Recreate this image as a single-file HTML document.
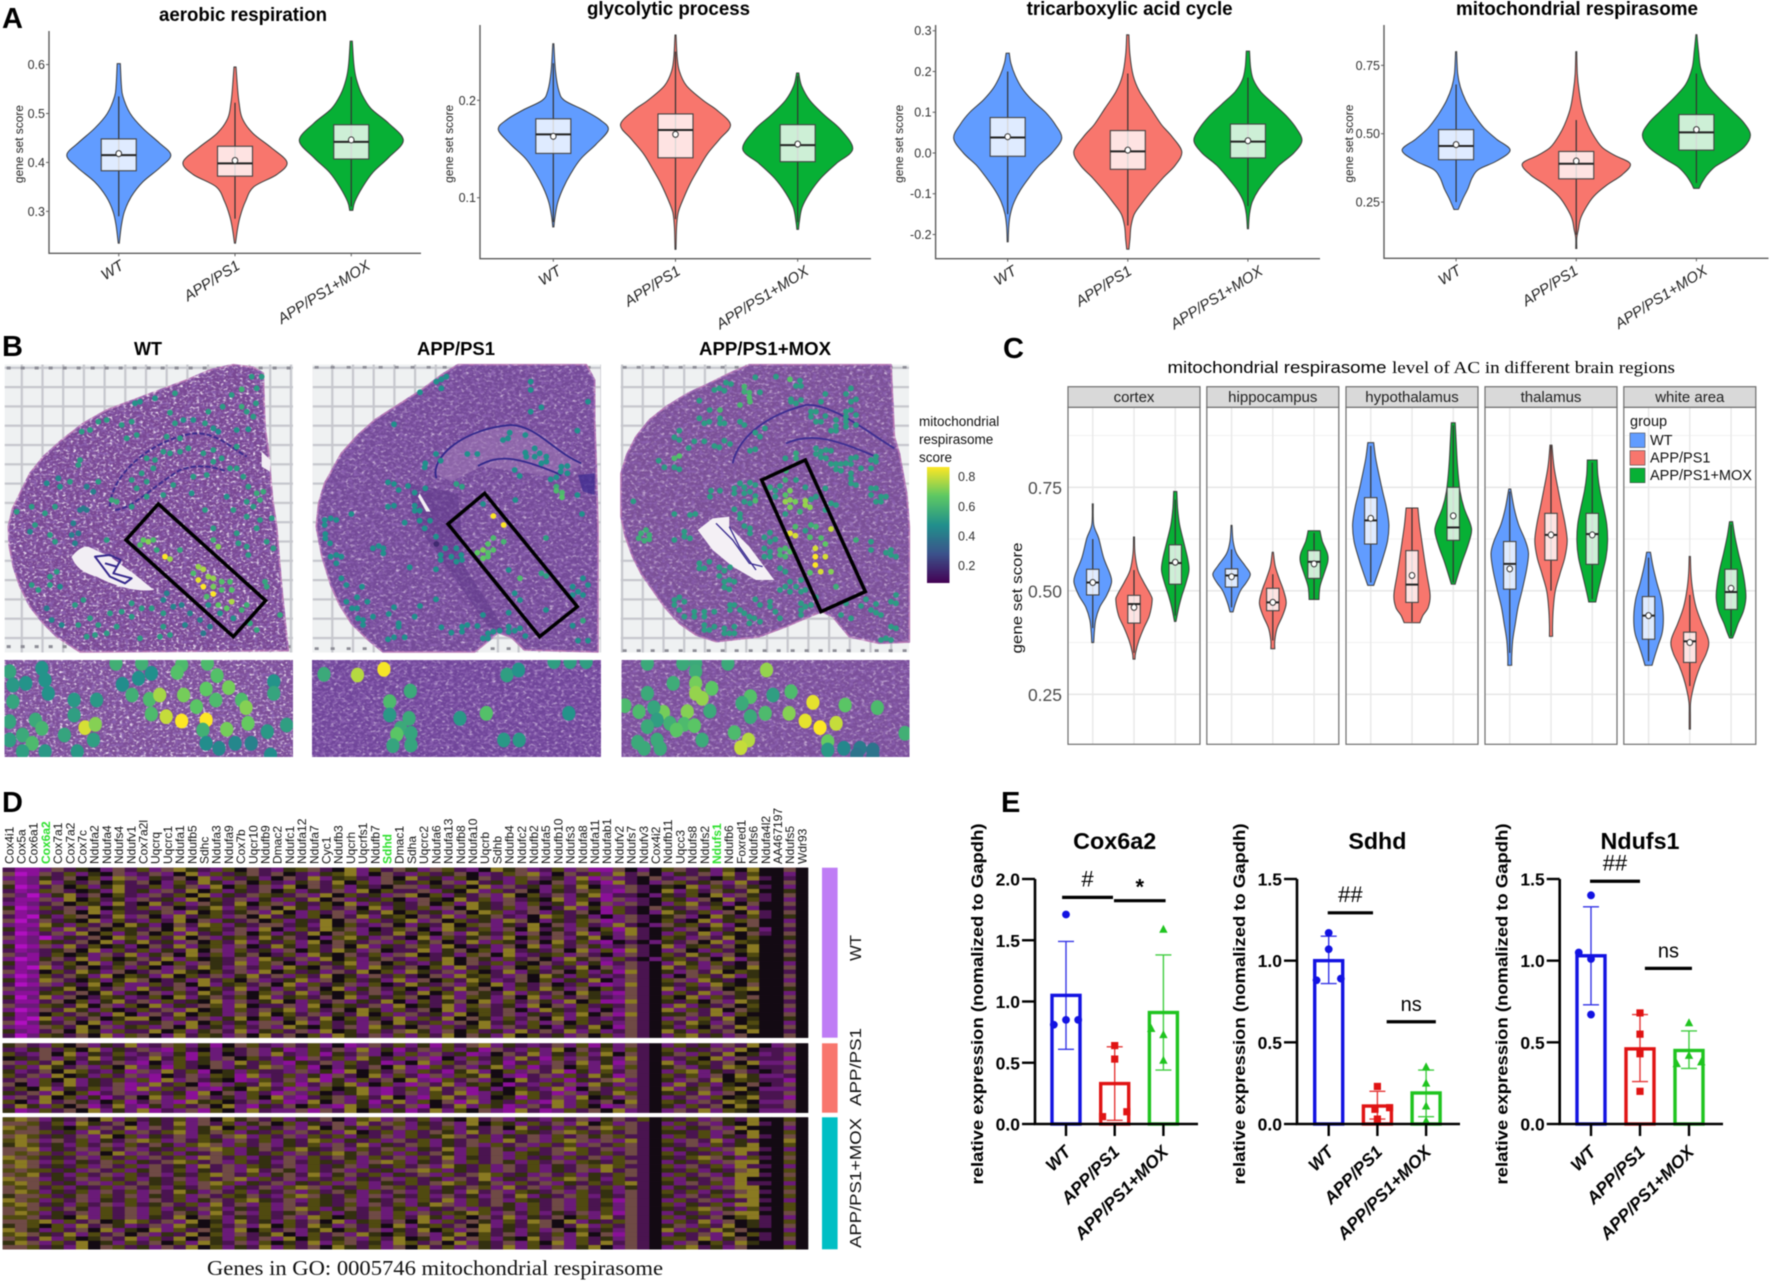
<!DOCTYPE html>
<html lang="en">
<head>
<meta charset="utf-8">
<title>Mitochondrial respirasome figure</title>
<style>
html,body{margin:0;padding:0;background:#fff}
svg{display:block;filter:blur(.45px)}
text{font-family:"Liberation Sans",sans-serif}
.serif{font-family:"Liberation Serif",serif}
</style>
</head>
<body>
<svg id="figure" xmlns="http://www.w3.org/2000/svg" width="1772" height="1284" viewBox="0 0 1772 1284">
<defs>
<filter id="speck" x="0" y="0" width="100%" height="100%"><feTurbulence type="fractalNoise" baseFrequency="0.3 0.42" numOctaves="2" seed="4" result="n"/><feColorMatrix in="n" type="matrix" values="0 0 0 0 .95 0 0 0 0 .9 0 0 0 0 .97 3.2 0 0 0 -1.62" result="c"/><feComposite in="c" in2="SourceAlpha" operator="in"/></filter>
<filter id="speck-soft" x="0" y="0" width="100%" height="100%"><feTurbulence type="fractalNoise" baseFrequency="0.26 0.36" numOctaves="2" seed="7" result="n"/><feColorMatrix in="n" type="matrix" values="0 0 0 0 .8 0 0 0 0 .68 0 0 0 0 .86 2.4 0 0 0 -1.25" result="c"/><feComposite in="c" in2="SourceAlpha" operator="in"/></filter>
<filter id="dark" x="0" y="0" width="100%" height="100%"><feTurbulence type="fractalNoise" baseFrequency="0.24 0.34" numOctaves="2" seed="9" result="n"/><feColorMatrix in="n" type="matrix" values="0 0 0 0 .26 0 0 0 0 .12 0 0 0 0 .44 0 2.8 0 0 -1.25" result="c"/><feComposite in="c" in2="SourceAlpha" operator="in"/></filter>
<pattern id="slide-grid" width="20.7" height="19.3" patternUnits="userSpaceOnUse"><rect width="20.7" height="19.3" fill="#eff1f2"/><path d="M0 0H20.7M0 0V19.3" stroke="#c6c7cd" stroke-width="4.4" fill="none"/></pattern>
<linearGradient id="viridis-gradient" x1="0" y1="1" x2="0" y2="0"><stop offset="0" stop-color="#440154"/><stop offset=".25" stop-color="#3b528b"/><stop offset=".5" stop-color="#21908c"/><stop offset=".75" stop-color="#5dc863"/><stop offset="1" stop-color="#fde725"/></linearGradient>
<clipPath id="clip-i1"><rect x="4.5" y="660" width="288.5" height="97"/></clipPath>
<clipPath id="clip-i2"><rect x="312" y="660" width="289" height="97"/></clipPath>
<clipPath id="clip-i3"><rect x="621.5" y="660" width="288" height="97"/></clipPath>
</defs>

<g font-weight="bold" font-size="29" fill="#000">
<text x="2" y="28">A</text>
<text x="2" y="356">B</text>
<text x="1003" y="358">C</text>
<text x="2" y="812">D</text>
<text x="1001" y="812">E</text>
</g>

<g id="panel-b">
<g font-weight="bold" font-size="18" text-anchor="middle">
<text x="148" y="355">WT</text>
<text x="456" y="355" textLength="78" lengthAdjust="spacingAndGlyphs">APP/PS1</text>
<text x="765" y="355" textLength="132" lengthAdjust="spacingAndGlyphs">APP/PS1+MOX</text>
</g>
<rect x="4.7" y="364.5" width="288.3" height="288" fill="url(#slide-grid)"/>
<rect x="312.7" y="364.5" width="288.3" height="288" fill="url(#slide-grid)"/>
<rect x="620.7" y="364.5" width="288.3" height="288" fill="url(#slide-grid)"/>
<path transform="translate(0,360) scale(.3333)" fill="none" stroke="#8d8d96" stroke-width="9" stroke-dasharray="12 30" d="M20 24H880M20 860H880"/>
<path transform="translate(308,360) scale(.3333)" fill="none" stroke="#8d8d96" stroke-width="8" stroke-dasharray="12 36" d="M20 22H880M20 866H880"/>
<path transform="translate(616,360) scale(.3333)" fill="none" stroke="#8d8d96" stroke-width="8" stroke-dasharray="12 30" d="M20 22H880M20 872H880"/>

<g>
<path id="bw" transform="translate(0,360) scale(.3333)" fill="#794793" stroke="#b97ab4" stroke-width="5" stroke-linejoin="round" d="M700 14L760 22L790 40L792 120L795 200L805 270L810 330L818 420L830 500L838 600L845 680L855 780L865 872L240 876L170 830L130 790L90 740L60 680L40 620L28 560L25 500L38 445L60 400L90 340L130 290L185 240L250 190L320 150L400 120L480 90L560 60L630 30Z"/>
<g filter="url(#speck)"><use href="#bw"/></g><g filter="url(#dark)"><use href="#bw"/></g>
<path transform="translate(0,360) scale(.3333)" fill="#f2eef4" d="M215 590C235 565 255 555 270 562L330 590L400 640L462 690C400 698 330 672 290 650C250 640 225 620 215 590Z"/>
<path transform="translate(0,360) scale(.3333)" fill="none" stroke="#36288c" stroke-width="6" stroke-linejoin="round" d="M285 590L330 585L362 600L340 640L395 655L375 670L330 650L300 610ZM315 610L350 620"/>
<path transform="translate(0,360) scale(.3333)" fill="none" stroke="#3b2c8e" stroke-width="6" stroke-dasharray="16 6" d="M330 440C330 360 430 250 570 222C640 210 690 260 740 290M345 450C400 445 450 385 540 330C590 312 640 318 680 335"/>
<path transform="translate(0,360) scale(.3333)" fill="#f2eef4" d="M785 275L812 300L810 335L785 320Z"/>
</g>
<g>
<path id="ba" transform="translate(308,360) scale(.3333)" fill="#744a98" stroke="#b97ab4" stroke-width="5" stroke-linejoin="round" d="M450 14L835 14L860 60L860 180L865 320L870 500L870 876L650 870L610 832L570 818L545 840L500 876L225 876L175 835L130 790L95 735L70 680L42 590L25 500L32 430L50 370L100 280L150 225L200 180L270 135L340 90L400 45Z"/>
<g filter="url(#speck-soft)"><use href="#ba"/></g><g filter="url(#dark)"><use href="#ba"/></g>
<path transform="translate(308,360) scale(.3333)" fill="#5b3688" opacity=".5" d="M300 370L450 400L470 620L560 760L590 810L540 800L430 640L330 500Z"/>
<path transform="translate(308,360) scale(.3333)" fill="#a47eb8" opacity=".5" d="M380 340C400 260 520 190 620 195C700 200 760 280 830 310L740 350L520 320L430 365Z"/>
<path transform="translate(308,360) scale(.3333)" fill="none" stroke="#33288c" stroke-width="5.5" d="M385 355C365 290 470 205 610 195C690 200 730 270 820 310M510 318C570 285 620 285 760 345"/>
<path transform="translate(308,360) scale(.3333)" fill="#3a2a90" opacity=".7" d="M810 345L860 340L860 405L825 395Z"/>
<path transform="translate(308,360) scale(.3333)" fill="#f2eef4" d="M335 400L368 455L355 455L330 410Z"/>
</g>
<g>
<path id="bm" transform="translate(616,360) scale(.3333)" fill="#7b5097" stroke="#b97ab4" stroke-width="5" stroke-linejoin="round" d="M400 14L825 14L830 120L835 230L850 280L872 400L880 500L880 846L790 850L700 830L650 770L618 755L580 770L510 800L430 830L300 845L240 825L190 790L145 740L110 690L75 640L50 590L28 530L15 470L15 340L32 285L60 230L100 180L150 140L215 100L280 70L340 40Z"/>
<g filter="url(#speck-soft)"><use href="#bm"/></g><g filter="url(#dark)"><use href="#bm"/></g>
<path transform="translate(616,360) scale(.3333)" fill="#f4f0f5" d="M245 510L290 475L340 470L340 500L400 560L430 600L475 660L420 660L350 620L290 570Z"/>
<path transform="translate(616,360) scale(.3333)" fill="none" stroke="#3a2c90" stroke-width="4" d="M300 490L350 540L400 610L440 620M340 500L370 560L420 630"/>
<path transform="translate(616,360) scale(.3333)" fill="none" stroke="#3d2e92" stroke-width="5.5" d="M350 310C370 220 470 160 570 135C650 130 760 220 835 265M510 250C590 215 660 240 780 290"/>
</g>

<rect id="i1" x="4.5" y="660" width="288.5" height="97" fill="#7d4e98"/>
<rect id="i2" x="312" y="660" width="289" height="97" fill="#70459a"/>
<rect id="i3" x="621.5" y="660" width="288" height="97" fill="#7b4f9a"/>
<g filter="url(#speck)"><use href="#i1"/></g>
<g filter="url(#speck-soft)"><use href="#i2"/><use href="#i3"/></g>
<g filter="url(#dark)"><use href="#i1"/><use href="#i2"/><use href="#i3"/></g>
<g id="spot-layer"></g>
<g id="inset-layer-wt" clip-path="url(#clip-i1)"></g>
<g id="inset-layer-app" clip-path="url(#clip-i2)"></g>
<g id="inset-layer-mox" clip-path="url(#clip-i3)"></g>
<path transform="translate(0,360) scale(.3333)" fill="none" stroke="#000" stroke-width="10.5" d="M475 432L797 722L700 830L378 540Z"/>
<path transform="translate(308,360) scale(.3333)" fill="none" stroke="#000" stroke-width="10.5" d="M530 400L808 740L695 830L420 492Z"/>
<path transform="translate(616,360) scale(.3333)" fill="none" stroke="#000" stroke-width="10.5" d="M568 300L748 695L615 755L437 360Z"/>
<g font-size="13.5" fill="#111">
<text x="919" y="426">mitochondrial</text><text x="919" y="444">respirasome</text><text x="919" y="462">score</text>
</g>
<rect x="927" y="467" width="22.5" height="116" fill="url(#viridis-gradient)"/>
<g id="colorbar-ticks"></g>
</g>

<g id="panel-a"></g>
<g id="panel-c"></g>
<g id="panel-d"></g>
<g id="panel-e"></g>
</svg>

<script>
/* ---------- Panel A data ---------- */
const groups=['WT','APP/PS1','APP/PS1+MOX'];
const groupColors=['#619CFF','#F8766D','#07B035'];

const aerobicScores=[[.602,.56,.535,.50,.47,.44,.415,.39,.36,.33,.30,.27,.235],[.595,.55,.52,.49,.46,.43,.40,.375,.35,.32,.29,.265,.235],[.648,.60,.57,.54,.51,.48,.445,.41,.38,.35,.32,.302]];
const aerobicDensity=[[.03,.05,.08,.22,.46,.78,1,.8,.46,.24,.11,.05,.01],[.02,.05,.08,.14,.34,.7,1,.8,.36,.2,.1,.05,.01],[.02,.05,.1,.2,.38,.72,1,.72,.42,.22,.07,.03]];
const aerobicBox=[[.383,.415,.448],[.372,.398,.433],[.407,.442,.477]];
const aerobicMean=[.418,.404,.446];
const aerobicWhisker=[[.29,.535],[.285,.522],[.31,.575]];
const aerobicTicks=[.3,.4,.5,.6];
const aerobicTickLabels=['0.3','0.4','0.5','0.6'];

const glycoScores=[[.258,.23,.21,.2,.19,.18,.17,.155,.14,.125,.11,.095,.08,.07],[.267,.245,.23,.215,.2,.19,.175,.16,.145,.13,.115,.10,.085,.07,.047],[.228,.215,.2,.185,.17,.15,.135,.12,.105,.09,.075,.0675]];
const glycoDensity=[[.01,.04,.1,.2,.55,.85,1,.78,.5,.32,.18,.08,.03,.01],[.01,.03,.07,.2,.5,.75,1,.8,.58,.42,.27,.15,.05,.02,.005],[.02,.07,.22,.48,.78,1,.7,.42,.22,.08,.03,.015]];
const glycoBox=[[.1455,.165,.181],[.141,.1695,.186],[.137,.154,.175]];
const glycoMean=[.163,.165,.155];
const glycoWhisker=[[.075,.238],[.078,.25],[.075,.225]];
const glycoTicks=[.1,.2];
const glycoTickLabels=['0.1','0.2'];

const tcaScores=[[.245,.22,.19,.16,.13,.10,.07,.036,0,-.03,-.06,-.09,-.12,-.15,-.18,-.218],[.29,.24,.19,.15,.11,.07,.04,.003,-.03,-.06,-.09,-.12,-.15,-.18,-.21,-.236],[.25,.21,.18,.15,.12,.09,.06,.03,0,-.03,-.06,-.09,-.12,-.15,-.186]];
const tcaDensity=[[.03,.06,.14,.26,.45,.7,.88,1,.82,.58,.4,.24,.12,.05,.02,.005],[.02,.04,.1,.22,.42,.62,.82,1,.88,.66,.46,.28,.12,.06,.04,.02],[.03,.05,.1,.24,.48,.72,.9,1,.85,.58,.38,.2,.08,.03,.01]];
const tcaBox=[[-.008,.038,.087],[-.04,.004,.055],[-.012,.028,.071]];
const tcaMean=[.04,.007,.03];
const tcaWhisker=[[-.15,.2],[-.178,.195],[-.13,.185]];
const tcaTicks=[-.2,-.1,0,.1,.2,.3];
const tcaTickLabels=['-0.2','-0.1','0.0','0.1','0.2','0.3'];

const respScores=[[.80,.72,.67,.62,.57,.52,.48,.44,.40,.37,.34,.30,.26,.223],[.80,.72,.66,.6,.55,.5,.45,.42,.39,.35,.31,.27,.23,.19,.15,.12,.08],[.862,.8,.74,.68,.63,.58,.54,.495,.45,.41,.38,.35,.32,.30]];
const respDensity=[[.01,.03,.08,.18,.33,.52,.75,1,.75,.42,.3,.22,.12,.04],[.005,.02,.05,.1,.18,.3,.48,.72,1,.85,.55,.32,.18,.08,.04,.01,.005],[.01,.04,.08,.2,.42,.68,.88,1,.88,.6,.35,.2,.1,.05]];
const respBox=[[.405,.455,.515],[.335,.39,.435],[.44,.505,.57]];
const respMean=[.46,.40,.515];
const respWhisker=[[.25,.68],[.13,.55],[.32,.72]];
const respTicks=[.25,.5,.75];
const respTickLabels=['0.25','0.50','0.75'];

/* ---------- Panel C data ---------- */
const regions=['cortex','hippocampus','hypothalamus','thalamus','white area'];
const regionTicks=[.25,.5,.75];
const regionTickLabels=['0.25','0.50','0.75'];
const regionMinorTicks=[.375,.625,.875];

const cortexScores=[[.71,.66,.627,.58,.54,.52,.49,.46,.43,.40,.375],[.63,.59,.55,.52,.49,.475,.44,.41,.38,.35,.335],[.74,.70,.66,.62,.58,.55,.52,.49,.46,.426]];
const cortexDensity=[[.02,.05,.3,.55,.88,.95,.72,.35,.15,.08,.05],[.02,.05,.2,.5,.85,.92,.78,.5,.25,.08,.05],[.08,.12,.22,.42,.62,.7,.55,.35,.18,.04]];
const cortexBox=[[.49,.52,.552],[.422,.468,.489],[.516,.567,.611]];
const cortexMean=[.52,.46,.569];
const cortexWhisker=[[.41,.625],[.35,.55],[.44,.72]];

const hippoScores=[[.658,.62,.59,.56,.54,.52,.50,.47,.449],[.593,.56,.53,.50,.47,.44,.41,.38,.36],[.645,.62,.59,.57,.54,.51,.479]];
const hippoDensity=[[.02,.08,.25,.7,.95,.75,.45,.2,.08],[.03,.12,.32,.55,.68,.5,.22,.1,.1],[.3,.42,.68,.7,.5,.3,.25]];
const hippoBox=[[.509,.537,.553],[.452,.472,.506],[.53,.57,.597]];
const hippoMean=[.534,.472,.565];
const hippoWhisker=[[.46,.60],[.38,.54],[.48,.64]];

const hypoScores=[[.858,.82,.78,.74,.70,.66,.62,.58,.55,.513],[.70,.66,.62,.58,.54,.49,.46,.44,.423],[.906,.86,.8,.74,.7,.66,.64,.61,.57,.54,.516]];
const hypoDensity=[[.15,.25,.42,.6,.8,.92,.85,.62,.42,.15],[.3,.38,.5,.62,.75,.92,.82,.55,.4],[.1,.15,.22,.35,.55,.88,.92,.75,.45,.25,.1]];
const hypoBox=[[.613,.67,.725],[.472,.515,.597],[.622,.653,.75]];
const hypoMean=[.675,.537,.681];
const hypoWhisker=[[.52,.85],[.425,.70],[.52,.90]];

const thalScores=[[.746,.7,.66,.62,.59,.55,.5,.46,.42,.38,.34,.32],[.852,.8,.74,.7,.66,.62,.58,.54,.5,.46,.42,.39],[.816,.78,.74,.7,.66,.62,.58,.54,.5,.473]];
const thalDensity=[[.05,.22,.45,.8,.95,.85,.62,.42,.28,.15,.1,.1],[.05,.15,.38,.55,.72,.82,.7,.45,.22,.12,.08,.08],[.25,.28,.4,.58,.74,.78,.7,.5,.3,.18]];
const thalBox=[[.504,.565,.619],[.574,.635,.687],[.564,.637,.687]];
const thalMean=[.553,.635,.635];
const thalWhisker=[[.35,.74],[.50,.85],[.48,.81]];

const whiteScores=[[.593,.56,.52,.48,.44,.4,.37,.34,.32],[.583,.54,.5,.46,.42,.38,.35,.32,.29,.26,.23,.2,.166],[.667,.63,.59,.55,.51,.48,.45,.42,.4,.386]];
const whiteDensity=[[.1,.22,.42,.65,.75,.7,.5,.3,.18],[.03,.06,.15,.32,.62,.95,.85,.55,.32,.15,.04,.03,.03],[.08,.2,.38,.58,.72,.75,.62,.35,.2,.08]];
const whiteBox=[[.383,.44,.486],[.327,.378,.40],[.455,.497,.552]];
const whiteMean=[.44,.375,.506];
const whiteWhisker=[[.33,.58],[.27,.49],[.39,.66]];

/* ---------- Panel B spots: [slide u, slide v, optional score in percent] ---------- */
const wtSpots=[[755,50],[785,50],[725,88,56],[695,105],[770,85],[768,130],[725,140,54],[668,140],[740,155],[760,170],[625,155],[510,158],[420,125,46],[405,130,46],[465,115,46],[525,100],[615,190],[640,205,46],[655,215,44],[710,210,46],[745,208,46],[550,180,46],[580,180,46],[525,190],[395,185],[365,195],[320,180],[295,185],[270,210],[245,215],[380,235],[410,225],[500,230],[540,235],[565,265],[540,275],[510,280],[490,275],[640,270],[610,280],[710,260],[665,295],[640,305],[440,295],[465,300],[460,325],[425,340],[395,360],[410,385],[440,365],[490,405],[520,375],[580,350],[620,345],[690,325],[710,325],[730,350],[745,380],[770,400,54],[790,395,54],[780,420,54],[740,425],[680,410,46],[575,400,46],[350,425,54],[335,420,54],[395,440],[440,410],[240,300],[235,315],[175,355,42],[140,370,44],[180,380,46],[210,365],[260,380,40],[280,395,40],[295,365],[95,440],[50,455],[165,440],[135,460],[250,445,38],[240,450,38],[260,450,38],[105,495],[90,515,42],[150,525],[165,545],[220,490,40],[215,525,40],[225,550,40],[235,520,38],[320,540],[170,635],[150,650],[95,675],[115,690],[150,675],[180,680,44],[250,720],[225,735],[140,745,38],[155,780,42],[185,795,42],[235,795],[270,775],[295,795],[330,760],[350,800],[320,820],[285,825],[260,830],[395,730],[365,755],[425,745],[455,745],[490,760],[520,740,42],[500,700,40],[490,720,42],[545,735,40],[570,760,40],[555,795,42],[600,780,40],[610,820,38],[630,800,38],[490,800],[510,825],[420,835],[480,830],[395,770],[430,540,65],[445,545,70],[460,540,60],[420,555,60],[470,570,52],[495,590,85],[510,597,72],[540,570,52],[640,540,56],[655,560,70],[595,620,72],[610,628,75],[580,640,60],[595,660,82],[625,650,72],[640,655,72],[610,680,85],[640,680,68],[665,665,62],[690,665,60],[640,702,85],[665,690,60],[695,690,62],[620,710,60],[695,725,75],[655,735,65],[680,745,65],[740,735,56],[725,750,56],[625,735,46],[660,760,46],[700,775,46],[750,790,52],[795,665,52],[800,680,52],[840,765,52],[770,810,52],[640,505],[710,520],[715,550],[740,560],[745,585],[800,545],[820,565],[770,505],[780,480],[815,475],[740,470],[760,440],[700,450],[615,450]];
const appSpots=[[385,65],[400,58],[415,50],[400,85],[336,97],[258,193],[668,65],[668,90],[668,155],[700,142],[840,125],[808,212],[652,225],[605,218],[600,235],[585,240],[478,282],[508,282],[384,282],[398,302],[352,310],[350,322],[652,278],[680,265],[695,280],[655,290],[680,290],[715,290],[715,305],[700,310],[620,330],[635,348],[778,318],[760,320],[758,335],[778,340],[745,352],[728,358],[745,380,55],[745,392,60],[762,398,60],[762,412,62],[808,405],[622,420],[822,462],[525,432],[556,468,85],[587,495,88],[240,367],[258,372],[300,378],[320,398],[352,385],[272,390],[445,372,50],[462,380,50],[240,440],[258,437],[320,437],[320,452],[335,452],[290,488],[335,482],[366,482],[130,462],[50,480],[50,495],[68,475],[85,480],[52,522],[52,535],[66,550],[195,565],[212,558],[226,565],[226,580],[68,590],[85,585],[100,590],[85,610],[305,622],[384,628],[384,530],[385,552,15],[412,565],[398,585],[398,600],[430,590],[445,565],[460,585],[462,600],[445,605],[350,505],[556,534,60],[540,552,62],[587,545,58],[508,578,65],[525,570,68],[540,578,62],[556,570,62],[525,595,65],[540,590,62],[602,630],[636,655,60],[700,640,50],[715,648,50],[714,534,50],[100,655],[115,675],[162,680],[115,725],[147,712],[178,725],[132,745],[147,745],[195,770],[150,775],[165,780],[165,795],[258,742],[242,762],[336,738],[320,770],[384,718],[272,790],[272,800],[290,832],[258,832],[240,838],[400,802],[430,818],[462,800],[478,795],[462,815],[508,798],[525,765],[602,758],[620,700],[636,720],[540,820],[525,835],[540,835],[556,815],[575,812],[602,800],[602,815],[620,812],[636,805],[652,828],[714,750],[825,655],[840,675],[794,680],[810,695],[825,705],[794,705],[825,782,52],[794,797],[810,842],[840,842]];
const moxSpots=[[418,52],[480,50],[522,58,62],[552,62],[540,78],[555,78],[330,68],[345,72],[385,80,58],[295,90],[310,85],[325,92],[400,98,58],[432,97],[385,95,55],[400,112,60],[402,125,60],[372,135,58],[250,122],[628,102],[690,102],[705,85],[615,125],[705,125],[720,118],[525,125],[540,130],[555,120],[525,118],[281,150],[312,150,58],[250,175],[265,190],[280,185],[312,175],[325,190],[312,190],[372,185],[385,195],[190,212],[175,232],[190,240],[235,244],[265,244],[218,264],[295,258],[310,262],[325,242],[342,252],[585,155],[600,155],[585,170],[600,185],[615,185],[628,168],[660,180],[660,198],[645,212],[660,212],[690,155],[705,150],[690,170],[690,185],[690,200],[720,165],[720,195],[418,218],[432,230],[447,205],[402,272],[418,268],[128,302],[175,295,60],[190,288,62],[145,322],[175,322],[190,328],[540,280,52],[540,295,52],[508,295],[600,265],[615,275],[630,270],[645,272],[600,282],[615,292],[630,295],[705,295],[720,292],[690,310],[660,312],[645,312],[675,312],[660,328],[675,332],[705,312],[735,325],[765,325],[765,300],[780,290],[780,305],[705,340],[705,355],[705,370],[720,375],[765,385],[780,385],[765,405],[795,410],[810,410],[780,425],[795,425],[510,332,55],[508,360,55],[540,360],[462,382,52],[478,392],[492,378],[522,392,68],[508,405,62],[478,410],[568,382],[600,410],[628,385],[508,425,72],[522,420,70],[538,425,68],[522,442,68],[568,422,72],[568,435,72],[582,442,70],[585,418],[552,455,55],[508,462],[645,430],[660,435],[628,450],[285,392],[312,392],[355,385],[355,400],[372,370],[385,382],[402,368],[418,375],[385,400],[402,395],[418,408],[418,422,60],[385,425],[402,430],[282,410],[355,448],[372,462],[372,475],[222,465],[238,462],[175,462],[52,424],[75,520,55],[90,510,55],[100,525,55],[68,535,55],[85,542,55],[100,538,55],[175,540],[205,515],[205,530],[222,535],[385,498],[402,505],[402,520],[462,518],[445,532],[462,545],[478,538],[538,500,60],[568,512],[585,495,55],[600,500,58],[522,520,82],[538,527,80],[582,532,60],[615,534,60],[645,507,78],[720,540,55],[765,545],[765,570],[628,552,65],[598,565,80],[598,590,85],[628,590,80],[598,615,90],[582,638,62],[614,635,80],[645,635,70],[660,680,55],[445,565],[462,575],[445,590],[462,590],[492,570,58],[508,565,60],[522,575,62],[492,585,58],[508,590,58],[810,578],[825,570],[825,585],[840,590],[250,610],[265,625],[280,605],[250,625],[310,622],[325,632],[342,622],[310,648],[325,665],[340,660],[355,665],[325,682],[340,688],[492,625],[508,635],[492,690],[508,680],[522,665],[540,680],[555,660],[568,690],[522,695],[555,695],[600,712],[175,720],[190,712],[205,725],[175,735],[190,750],[205,770],[235,755],[235,770],[265,755],[265,770],[295,755],[265,795],[280,810],[265,810],[295,800],[325,805],[355,800],[340,820],[355,820],[325,820],[342,735],[355,735],[342,750],[418,718],[432,735],[462,725],[462,740],[478,755],[492,775],[372,750],[385,760],[400,770],[415,775],[400,790],[432,785],[555,730],[568,740],[585,735],[555,750],[555,765],[690,730],[735,738],[780,732],[750,718],[765,750],[780,758],[795,765],[675,765],[705,775],[825,725],[840,730],[840,705],[825,800],[840,805],[795,840],[810,835],[825,840]];
const wtInsetSpots=[[15,1010,52],[65,1000,46],[70,1035,46],[20,1050,48],[40,1045,46],[75,1075,46],[180,985,56],[220,985,56],[282,990,60],[322,985,60],[235,1015,45],[215,1030,45],[275,1012,62],[337,1022,62],[190,1048,44],[205,1080,56],[232,1093,60],[248,1080,74],[285,1080,68],[320,1062,65],[355,1058,68],[335,1095,60],[375,1095,60],[425,1040,46],[425,1075,52],[115,1095,48],[150,1095,48],[20,1100,52],[15,1160,52],[55,1155,54],[65,1180,58],[35,1200,54],[100,1200,52],[115,1140,50],[132,1178,80],[148,1168,70],[235,1137,60],[258,1145,78],[282,1158,88],[320,1155,85],[305,1115,64],[382,1118,70],[385,1165,66],[352,1183,68],[315,1185,56],[445,1170,50],[415,1190,48],[50,1225,60],[35,1250,50],[120,1250,48],[145,1215,50],[320,1225,44],[340,1240,42],[365,1225,42],[390,1225,40],[420,1260,44],[70,1250,48],[15,1215,50]];
const appInsetSpots=[[503,1018,54],[555,1020,76],[596,1003,84],[637,1068,54],[605,1100,60],[605,1140,48],[635,1150,54],[622,1180,54],[638,1195,52],[616,1198,64],[610,1232,52],[638,1230,52],[714,1150,48],[755,1135,62],[883,1135,46],[782,1215,48],[806,1215,48],[787,1020,50],[805,1005,46],[860,980,50],[885,980,50],[910,980,50]];
const moxInsetSpots=[[1190,1005,72],[1005,985,54],[1060,985,54],[1080,985,54],[1130,985,54],[1080,1010,55],[1045,1045,55],[1080,1045,68],[1080,1075,72],[1105,1060,64],[1090,1090,72],[1005,1075,54],[970,1112,60],[1165,1085,62],[1152,1105,54],[1228,1070,60],[1200,1080,50],[1262,1102,82],[1312,1110,64],[1362,1118,60],[992,1130,60],[1030,1132,68],[1015,1118,52],[1067,1130,70],[1102,1128,54],[1165,1145,54],[1188,1135,60],[1225,1135,70],[1250,1158,82],[1273,1178,90],[1298,1165,78],[1020,1155,50],[1040,1165,56],[1062,1168,60],[1078,1172,64],[1050,1185,64],[1005,1175,54],[1140,1193,60],[1090,1215,54],[1162,1215,76],[1150,1238,78],[990,1222,54],[1020,1215,54],[1000,1240,54],[1025,1240,54],[1285,1220,66],[1285,1245,48],[1310,1240,42],[1335,1240,38],[1355,1245,36],[1405,1195,56],[1330,1260,36],[1355,1265,36]];
const scoreTicks=[.2,.4,.6,.8];
const scoreTickLabels=['0.2','0.4','0.6','0.8'];

/* ---------- Panel D data: digit 0 = most magenta, 4 = neutral, 9 = most yellow ---------- */
const genes=['Cox4i1','Cox5a','Cox6a1','Cox6a2','Cox7a1','Cox7a2','Cox7c','Ndufa2','Ndufa4','Ndufs4','Ndufv1','Cox7a2l','Uqcrq','Uqcrc1','Ndufa1','Ndufb5','Sdhc','Ndufa3','Ndufa9','Cox7b','Uqcr10','Ndufb9','Dmac2','Ndufc1','Ndufa12','Ndufa7','Cyc1','Ndufb3','Uqcrh','Uqcrfs1','Ndufb7','Sdhd','Dmac1','Sdha','Uqcrc2','Ndufa6','Ndufa13','Ndufb8','Ndufa10','Uqcrb','Sdhb','Ndufb4','Ndufc2','Ndufb2','Ndufa5','Ndufb10','Ndufs3','Ndufa8','Ndufa11','Ndufab1','Ndufv2','Ndufs7','Ndufv3','Cox4i2','Ndufb11','Uqcc3','Ndufs8','Ndufs2','Ndufs1','Ndufb6','Foxred1','Ndufs6','Ndufa4l2','AA467197','Ndufs5','Wdr93'];
const highlightedGenes=['Cox6a2','Sdhd','Ndufs1'];
const wtRows=[
"31127354273 62785326473 25673482637 52763248572 36271174246 73526484474",
"70173625472 37248263573 74325682473 26357423678 24736283742 53728364424",
"21253746287 25374826352 47382563274 83526473267 35281723473 27346383434",
"71282537463 74263852746 32573846275 36472835263 47263183427 63572834474",
"50137462583 36257284637 28473625347 72536482735 26384227345 48263753424",
"31267345283 52738462537 46253728463 37254826374 25376217348 26375384454",
"72025837463 27364825376 53728463527 84625372846 37258133425 36482753474",
"31172846352 73528463725 26384725364 27548362735 48263172346 52748363424",
"21237465283 48362753846 72536482635 37462853726 35284727342 68352474474",
"50163728453 62743582637 48526374825 36274853627 43825163475 37264824434",
"71235748263 35728463572 84263725384 63527486237 25374163428 53627483474",
"31052674382 74283562748 35264738256 47382657324 86352427345 72485363454",
"70273548263 26384725374 62538472635 82746352874 25367127346 34825674424",
"21185263748 52473862537 73528463274 25384672538 47263283427 56382474474",
"51262837465 37482563728 42638572436 74285362748 35274618345 27463852434",
"30137284625 74628352746 25384762538 36472853627 47382528342 63825473474",
"71202537486 26384725638 57342685273 48263572846 37258427346 52738464454",
"21265374825 83527463825 36284753726 25743826537 48362143425 37482654424",
"50172836452 47382562743 85263748253 76284352748 26375237348 25637484474",
"31235748263 62538472635 27463852743 38257462835 37482618342 74263584434",
"72136452738 25748362574 36285473627 84352674823 56273427346 38527464474",
"20157382645 73826453728 53728462573 26384752637 42857263425 63748254454",
"51273648257 38462753826 74263582746 32584736254 73625137342 85263474424",
"31082574362 64273852736 28547362853 74628352746 25384727348 36275484474",
"71246385274 37285463728 46352738462 85372643825 37462518345 27384654434",
"20163752846 52846372583 72638452736 34728563274 85263237342 47638254474",
"51287346258 74352836472 35827463528 27463852374 62538427346 72853464424",
"30172538462 26374825637 48263572643 85372648253 74362128345 36285474474",
"72235846372 83572463825 26374825736 42638574263 85274637348 25374684454",
"21156374825 47263852746 73825463725 38462753826 37485217342 63827544424",
"50282743652 36482573648 25637482536 74382652748 26375327346 48263574474",
"31137462583 72635482735 84263725384 26357482637 52846118345 36472854434",
"72265384726 48253762843 37284653728 45382673528 47263537342 82537464474",
"20173852643 63728452637 58263748526 37482563742 85362427348 26384754424",
"51246375284 27384652738 46372538462 73528463725 36284718345 57382644474",
"31082637458 84263725846 25738462538 26384752637 48263237342 72638454454",
"70253748263 35728463527 74826352748 53627483526 27463527346 38527464424",
"21176384725 62748352637 28546372853 47263582736 42538417345 26473854474",
"52137485263 38462573825 63728452637 85274635283 73826237348 52637484434",
"30265374826 74283652748 37462853726 26384752846 35274627342 68352744474"];
const appRows=[
"57326472538 23762514763 27362412736 25163782532 37261527342 63527384274",
"32573648253 72163425372 51263728251 37262517326 28473626346 25372843324",
"63274825362 37251624372 83261537242 62735124738 25362847345 72638452374",
"45372638253 28361527463 25173628536 27142635283 16273528342 36482733314",
"72638425372 14263572836 21537263512 48263725136 27382517348 25637482274",
"36285372648 25163472538 72614253748 21637258261 37462826345 72538643324",
"52374863251 72836145263 32725184637 26315824627 38152637342 68253734374",
"63728452637 21437265182 36251734826 31726584213 72638517346 36274852234",
"37264825362 61827354126 37281526374 82163725483 26153782345 27384653314",
"74263825371 28364172538 26137582462 17382564132 63728527342 83625474374",
"36482536271 82637215486 31726458213 62837152463 28147362348 25736842224",
"53728461372 26351847263 17264358213 72638125486 31725386345 63827453374",
"27384625137 48261735264 82135726384 21683724516 37284527342 37264583314",
"64283752461 37218564372 61284725138 26471825362 18263748346 52738642274",
"38526471382 15263748215 37462185263 71438265127 38264127345 26374853374",
"51263748252 81327164283 22717384625 13826472183 12637482342 73826542224"];
const moxRows=[
"68725374826 35362748573 62537426827 36254837253 26372573645 36275384464",
"77636285374 25382736257 46253728376 25372846526 37284627342 63725483474",
"86735462738 27362584625 37284752637 26362537483 52637867346 25372844424",
"67763528362 73682576253 62736284362 63752837265 37863637345 53627484464",
"78635372846 25372637826 37263625372 63587362537 26375763342 63625383474",
"68727362537 86273652736 25386253627 36253762837 26872728346 27382534484",
"58635263726 37526872637 25362738253 76253726372 63627367345 37263584464",
"77825372637 25362786257 36853726376 25382637526 37863727342 53627883424",
"76763627482 73625376253 62736857362 63752637265 37263637346 25362834464",
"87635372636 27362873625 37263752637 26382537263 52637263345 36875263474",
"68726253762 53786372635 27365362786 25372637526 37265367342 53627884464",
"78735362736 27352837265 37263572536 37285362736 25376863346 27362833424",
"67663527362 57362537283 75263726352 78625362736 25372837345 36253784464",
"76835263726 37253687362 57382573625 37263786352 73625367342 63725883474",
"87725372636 25372637826 37263625372 63527382537 26875263346 25372844464",
"68763527263 75362786253 72536276253 63786357263 72536368345 27362833424",
"76736253627 36253762537 26872536276 36253762837 26373625342 53627884464",
"78625362736 27385273625 37263752637 26352837265 37263527346 36253783474",
"57763572637 25362736573 26875362725 36273527382 53762537345 27362884464",
"87626372536 27362573685 37265372537 26382637265 37263617342 63725383424",
"68735263726 35736283726 27365362736 25872637526 37263527346 25362884464",
"76763752637 26253762536 27862573625 62537263526 37263627345 36875263464",
"78625372637 26375283726 35736253726 27365862736 25372617342 53627884474",
"66735482637 25384762536 37286453726 38526473825 37462837346 25374683424",
"77682637458 63728452835 26374825637 48263752638 74825367342 63827453464",
"57646283752 37285463728 46385273648 25637482536 74382637345 72638453474",
"87526374825 48263752846 37258463725 38462783526 27463527348 26385744424",
"68753826374 72538462735 84263728546 37258463725 36284717342 53728463464",
"76382645738 26384752637 28463572638 45283762548 37263527346 63825743474",
"58726384526 37462853726 45382673528 63748253726 48263837345 27463854424",
"77635284763 52738462538 26374853627 48362753826 37258427342 68352744464"];
const heatStops=['#b010c0','#8a1098','#6a1a78','#4a1450','#130a13','#333010','#504a10','#6f4a45','#8a7a22','#c8b030'];

/* ---------- Panel E data ---------- */
const barGroups=['WT','APP/PS1','APP/PS1+MOX'];
const barColors=['#1313e2','#e01414','#1fc41f'];
const cox6a2Means=[1.05,.33,.91];
const cox6a2Upper=[1.49,.63,1.38];
const cox6a2Lower=[.61,.03,.44];
const cox6a2Points=[[.81,.85,.85,1.71],[.64,.53,.06,.10],[1.59,.78,.73,.52]];
const cox6a2Jitter=[[-.25,0,.25,0],[0,0,-.25,.25],[0,-.25,0,0]];
const cox6a2Ticks=[0,.5,1,1.5,2];
const cox6a2TickLabels=['0.0','0.5','1.0','1.5','2.0'];
const cox6a2Marks=[[-.08,.965,1.85,'#'],[.985,2.045,1.823,'*']];

const sdhdMeans=[1.0,.11,.19];
const sdhdUpper=[1.15,.2,.33];
const sdhdLower=[.86,.03,.045];
const sdhdPoints=[[1.17,1.07,.88,.89],[.23,.10,.09,.03],[.35,.25,.11,.02]];
const sdhdJitter=[[0,0,-.25,.25],[0,.25,-.05,0],[0,0,0,0]];
const sdhdTicks=[0,.5,1,1.5];
const sdhdTickLabels=['0.0','0.5','1.0','1.5'];
const sdhdMarks=[[-.02,.91,1.293,'##'],[1.19,2.2,.626,'ns']];

const ndufs1Means=[1.03,.46,.45];
const ndufs1Upper=[1.33,.67,.57];
const ndufs1Lower=[.73,.26,.34];
const ndufs1Points=[[1.40,1.05,1.01,.67],[.68,.55,.43,.2],[.62,.42,.37,.38]];
const ndufs1Jitter=[[0,-.25,0,0],[0,0,0,0],[0,0,-.25,.25]];
const ndufs1Ticks=[0,.5,1,1.5];
const ndufs1TickLabels=['0.0','0.5','1.0','1.5'];
const ndufs1Marks=[[-.02,1.0,1.486,'##'],[1.1,2.06,.953,'ns']];

/* ---------- helpers ---------- */
const NS='http://www.w3.org/2000/svg';
function mk(tag,attrs,parent,text){
  const el=document.createElementNS(NS,tag);
  for(const k in attrs)el.setAttribute(k,attrs[k]);
  if(text!==undefined)el.textContent=text;
  parent.appendChild(el);
  return el;
}
function linear(d0,d1,r0,r1){return v=>r0+(v-d0)/(d1-d0)*(r1-r0);}
function smooth(pts){
  let d='';
  for(let i=0;i<pts.length-1;i++){
    const p0=pts[Math.max(i-1,0)],p1=pts[i],p2=pts[i+1],p3=pts[Math.min(i+2,pts.length-1)];
    const c1=[p1[0]+(p2[0]-p0[0])/6,p1[1]+(p2[1]-p0[1])/6];
    const c2=[p2[0]-(p3[0]-p1[0])/6,p2[1]-(p3[1]-p1[1])/6];
    d+='C'+c1[0].toFixed(1)+' '+c1[1].toFixed(1)+' '+c2[0].toFixed(1)+' '+c2[1].toFixed(1)+' '+p2[0].toFixed(1)+' '+p2[1].toFixed(1);
  }
  return d;
}
function drawViolin(g,cx,yScale,scores,density,halfPx,box,mean,whisker,boxHalf,color,groupName){
  const right=scores.map((s,i)=>[cx+Math.max(density[i]*halfPx,.5),yScale(s)]);
  const left=scores.map((s,i)=>[cx-Math.max(density[i]*halfPx,.5),yScale(s)]).reverse();
  const bodyPath=mk('path',{d:'M'+right[0][0]+' '+right[0][1]+smooth(right)+'L'+left[0][0]+' '+left[0][1]+smooth(left)+'Z',fill:color,stroke:'#3c3c3c','stroke-width':1},g);
  
  
  const whisk=mk('line',{x1:cx,x2:cx,y1:yScale(whisker[0]),y2:yScale(whisker[1]),stroke:'#333','stroke-width':1.2},g);
  
  
  const boxRect=mk('rect',{x:cx-boxHalf,width:boxHalf*2,y:yScale(box[2]),height:yScale(box[0])-yScale(box[2]),fill:'#fff','fill-opacity':.8,stroke:'#444','stroke-width':1.1},g);
  
  
  const med=mk('line',{x1:cx-boxHalf,x2:cx+boxHalf,y1:yScale(box[1]),y2:yScale(box[1]),stroke:'#222','stroke-width':2},g);
  
  
  const meanDot=mk('ellipse',{cx:cx,cy:yScale(mean),rx:2.8,ry:3,fill:'#fff',stroke:'#333','stroke-width':1},g);
  
  
}
function drawViolinChart(chartName,title,titleX,titleY,titleW,box,domain,ticks,tickLabels,scores,density,boxes,means,whiskers,yLabelX,halfW,labelDx){
  const g=mk('g',{},document.getElementById('panel-a'));
  
  
  const y=linear(domain[0],domain[1],box.bottom,box.top);
  const x=i=>box.left+(box.right-box.left)*(.1875+.3125*i);
  const t=mk('text',{x:titleX,y:titleY,'text-anchor':'middle','font-weight':'bold','font-size':19.5,textLength:titleW,lengthAdjust:'spacingAndGlyphs'},g,title);
  
  
  const axis=mk('path',{d:'M'+box.left+' '+box.top+'V'+box.bottom+'H'+box.right,fill:'none',stroke:'#5c5c5c','stroke-width':1.4},g);
  
  
  ticks.forEach((v,i)=>{
    const tick=mk('line',{x1:box.left-3,x2:box.left,y1:y(v),y2:y(v),stroke:'#5c5c5c','stroke-width':1},g);
    
    
    const lab=mk('text',{x:box.left-4,y:y(v)+4.5,'text-anchor':'end','font-size':12.5,fill:'#333'},g,tickLabels[i]);
    
    
  });
  const yTitle=mk('text',{transform:'translate('+yLabelX+','+((box.top+box.bottom)/2+2)+') rotate(-90)','text-anchor':'middle','font-size':11.5,textLength:78,lengthAdjust:'spacingAndGlyphs',fill:'#222'},g,'gene set score');
  
  
  groups.forEach((name,i)=>{
    drawViolin(g,x(i),y,scores[i],density[i],halfW,boxes[i],means[i],whiskers[i],17.5,groupColors[i],name);
    const tick=mk('line',{x1:x(i),x2:x(i),y1:box.bottom,y2:box.bottom+3,stroke:'#5c5c5c','stroke-width':1},g);
    
    
    const lab=mk('text',{transform:'translate('+(x(i)+labelDx[i])+','+(box.bottom+15)+') rotate(-32)','text-anchor':'end','font-size':15,'font-style':'italic',fill:'#222'},g,name);
    
    
  });
}

/* ---------- Panel A ---------- */
drawViolinChart('aerobic','aerobic respiration',243,21,168,{left:49,right:421,top:31,bottom:253.3},[.2143,.6686],aerobicTicks,aerobicTickLabels,aerobicScores,aerobicDensity,aerobicBox,aerobicMean,aerobicWhisker,23,52,[6,6,20]);
drawViolinChart('glycolytic','glycolytic process',668.5,15,163,{left:480,right:871,top:25,bottom:258.7},[.0374,.2773],glycoTicks,glycoTickLabels,glycoScores,glycoDensity,glycoBox,glycoMean,glycoWhisker,453,55,[9,6,12]);
drawViolinChart('tca','tricarboxylic acid cycle',1129.6,15,206,{left:935.6,right:1320,top:25,bottom:258.7},[-.2594,.3141],tcaTicks,tcaTickLabels,tcaScores,tcaDensity,tcaBox,tcaMean,tcaWhisker,903,54,[10,5,16]);
drawViolinChart('respirasome','mitochondrial respirasome',1577,15,242,{left:1384,right:1768.5,top:25,bottom:258.3},[.0443,.8976],respTicks,respTickLabels,respScores,respDensity,respBox,respMean,respWhisker,1353,54,[6,3,12]);

/* ---------- Panel B spots ---------- */
const viridisStops=[[68,1,84],[59,82,139],[33,144,140],[93,200,99],[253,231,37]];
function viridis(s){
  const t=Math.min(Math.max((s-5)/80,0),1)*4,i=Math.min(Math.floor(t),3),f=t-i;
  const c=viridisStops[i].map((a,k)=>Math.round(a+(viridisStops[i+1][k]-a)*f));
  return 'rgb('+c.join(',')+')';
}
const spotLayer=document.getElementById('spot-layer');
function drawTileSpots(spots,originX,fallbackScore,name){
  const tx=linear(0,900,originX,originX+300);
  const ty=linear(0,900,360,660);
  spots.forEach(sp=>{
    const score=sp.length>2?sp[2]:fallbackScore;
    const dot=mk('circle',{cx:tx(sp[0]),cy:ty(sp[1]),r:2.9,fill:viridis(score)},spotLayer);
    
    
  });
}
drawTileSpots(wtSpots,0,49,'wt');
drawTileSpots(appSpots,308,45,'app');
drawTileSpots(moxSpots,616,49,'mox');
const insetX=linear(0,1010,0,650.6);
const insetY=linear(0,1290,335,765);
function drawInsetSpots(spots,layerId,name){
  const layer=document.getElementById(layerId);
  spots.forEach(sp=>{
    const dot=mk('ellipse',{cx:insetX(sp[0]),cy:insetY(sp[1]),rx:6.6,ry:7.4,fill:viridis(sp[2])},layer);
    
    
  });
}
drawInsetSpots(wtInsetSpots,'inset-layer-wt','wt-inset');
drawInsetSpots(appInsetSpots,'inset-layer-app','app-inset');
drawInsetSpots(moxInsetSpots,'inset-layer-mox','mox-inset');
const cbY=linear(.2,.8,565.7,476.7);
scoreTicks.forEach((v,i)=>{
  const lab=mk('text',{x:958,y:cbY(v)+4.5,'font-size':12.5,fill:'#333'},document.getElementById('colorbar-ticks'),scoreTickLabels[i]);
  
  
});

/* ---------- Panel C ---------- */
(function(){
  const g=document.getElementById('panel-c');
  const top=407.3,bottom=744.3,stripTop=386.7;
  const y=linear(.25,.75,694.3,487.3);
  const lefts=[1068,1206.8,1346,1485,1623.8];
  const w=132;
  const regionScores=[cortexScores,hippoScores,hypoScores,thalScores,whiteScores];
  const regionDensity=[cortexDensity,hippoDensity,hypoDensity,thalDensity,whiteDensity];
  const regionBox=[cortexBox,hippoBox,hypoBox,thalBox,whiteBox];
  const regionMean=[cortexMean,hippoMean,hypoMean,thalMean,whiteMean];
  const regionWhisker=[cortexWhisker,hippoWhisker,hypoWhisker,thalWhisker,whiteWhisker];
  const t1=mk('text',{x:1167.5,y:373,'font-size':16.5,textLength:219,lengthAdjust:'spacingAndGlyphs'},g,'mitochondrial respirasome');
  
  
  const t2=mk('text',{x:1392,y:373,'font-size':17,class:'serif',textLength:283,lengthAdjust:'spacingAndGlyphs'},g,'level of AC in different brain regions');
  
  
  const yt=mk('text',{transform:'translate(1022,598) rotate(-90)','text-anchor':'middle','font-size':15,textLength:111,lengthAdjust:'spacingAndGlyphs',fill:'#111'},g,'gene set score');
  
  
  regionTicks.forEach((v,i)=>{
    const lab=mk('text',{x:1062,y:y(v)+6.5,'text-anchor':'end','font-size':17.5,fill:'#4d4d4d'},g,regionTickLabels[i]);
    
    
  });
  regions.forEach((region,ri)=>{
    const L=lefts[ri];
    const bg=mk('g',{},g);
    
    
    regionMinorTicks.forEach(v=>{
      const gl=mk('line',{x1:L,x2:L+w,y1:y(v),y2:y(v),stroke:'#f2f2f2','stroke-width':1},bg);
      
      
    });
    regionTicks.forEach(v=>{
      const gl=mk('line',{x1:L,x2:L+w,y1:y(v),y2:y(v),stroke:'#e8e8e8','stroke-width':1.6},bg);
      
      
    });
    groups.forEach((name,i)=>{
      const gx=L+w*(.1875+.3125*i);
      const gl=mk('line',{x1:gx,x2:gx,y1:top,y2:bottom,stroke:'#e8e8e8','stroke-width':1.4},bg);
      
      
    });
    groups.forEach((name,i)=>{
      const cx=L+w*(.1875+.3125*i);
      drawViolin(bg,cx,y,regionScores[ri][i],regionDensity[ri][i],19.7,regionBox[ri][i],regionMean[ri][i],regionWhisker[ri][i],6.2,groupColors[i],region.replace(' ','-')+'-'+name);
    });
    const frame=mk('rect',{x:L,y:top,width:w,height:bottom-top,fill:'none',stroke:'#6e6e6e','stroke-width':1.2},bg);
    
    
    const strip=mk('rect',{x:L,y:stripTop,width:w,height:top-stripTop,fill:'#d9d9d9',stroke:'#6e6e6e','stroke-width':1.2},bg);
    
    
    const sl=mk('text',{x:L+w/2,y:402,'text-anchor':'middle','font-size':15,fill:'#222'},bg,region);
    
    
  });
  const lt=mk('text',{x:1630,y:426,'font-size':14.5,fill:'#111'},g,'group');
  
  
  groups.forEach((name,i)=>{
    const sy=433+17.6*i;
    const sw=mk('rect',{x:1630,y:sy,width:15,height:14.5,fill:groupColors[i],stroke:'#444','stroke-width':.6},g);
    
    
    const tl=mk('text',{x:1650,y:sy+12,'font-size':14.5,fill:'#111'},g,name);
    
    
  });
})();

/* ---------- Panel D ---------- */
(function(){
  const g=document.getElementById('panel-d');
  const left=2.7,cw=805.3/genes.length;
  genes.forEach((name,i)=>{
    const on=highlightedGenes.includes(name);
    const t=mk('text',{transform:'translate('+(left+cw*i+cw/2+4.5)+',864) rotate(-90)','font-size':12,'font-weight':on?'bold':'normal',fill:on?'#2ee02e':'#111'},g,name);
    
    
  });
  function heatColor(d){return heatStops[d];}
  function drawBlock(rows,top,bottom,name){
    const h=(bottom-top)/rows.length;
    const back=mk('rect',{x:left,y:top,width:805.3,height:bottom-top,fill:'#3a1f3a'},g);
    
    
    rows.forEach((row,r)=>{
      const cells=row.replace(/ /g,'');
      for(let c=0;c<cells.length;c++){
        const cell=mk('rect',{x:(left+c*cw).toFixed(2),y:(top+r*h).toFixed(2),width:(cw+.3).toFixed(2),height:(h+.2).toFixed(2),fill:heatColor(+cells[c])},g);
        
        
      }
    });
  }
  drawBlock(wtRows,867.7,1037.7,'wt');
  drawBlock(appRows,1043.3,1112.7,'app');
  drawBlock(moxRows,1117.3,1249.3,'mox');
  const bars=[[867.7,170,'#bf7df5','WT',948,26],[1043.3,69.4,'#f8766d','APP/PS1',1067,78],[1117.3,132,'#00bfc4','APP/PS1+MOX',1183,130]];
  bars.forEach(b=>{
    const r=mk('rect',{x:822,y:b[0],width:15.6,height:b[1],fill:b[2]},g);
    
    
    const t=mk('text',{transform:'translate(861,'+b[4]+') rotate(-90)','text-anchor':'middle','font-size':16,textLength:b[5],lengthAdjust:'spacingAndGlyphs',fill:'#111'},g,b[3]);
    
    
  });
  const cap=mk('text',{x:435,y:1275,'text-anchor':'middle','font-size':21,class:'serif',textLength:456,lengthAdjust:'spacingAndGlyphs',fill:'#111'},g,'Genes in GO: 0005746 mitochondrial respirasome');
  
  
})();

/* ---------- Panel E ---------- */
function drawBarChart(name,layout,means,upper,lower,points,jitter,ticks,tickLabels,marks){
  const g=mk('g',{},document.getElementById('panel-e'));
  
  
  const y=linear(0,ticks[ticks.length-1],1124,879);
  const x=i=>layout.c0+layout.step*i;
  const t=mk('text',{x:x(1),y:849,'text-anchor':'middle','font-weight':'bold','font-size':23,textLength:layout.titleW,lengthAdjust:'spacingAndGlyphs'},g,name);
  
  
  const yt=mk('text',{transform:'translate('+(layout.axis-52)+',1004) rotate(-90)','text-anchor':'middle','font-size':17,'font-weight':'bold',textLength:361,lengthAdjust:'spacingAndGlyphs'},g,'relative expression (nomalized to Gapdh)');
  
  
  barGroups.forEach((grp,i)=>{
    const bar=mk('rect',{x:x(i)-14,y:y(means[i]),width:28,height:1124-y(means[i]),fill:'#fff',stroke:barColors[i],'stroke-width':3.4},g);
    
    
    const err=mk('path',{d:'M'+x(i)+' '+y(upper[i])+'V'+y(lower[i])+'M'+(x(i)-8)+' '+y(upper[i])+'h16M'+(x(i)-8)+' '+y(lower[i])+'h16',fill:'none',stroke:barColors[i],'stroke-width':1.4,opacity:.85},g);
    
    
    points[i].forEach((v,k)=>{
      const px=x(i)+jitter[i][k]*layout.step,py=y(v);
      let m;
      if(i===0)m=mk('ellipse',{cx:px,cy:py,rx:3.9,ry:3.9,fill:barColors[i]},g);
      else if(i===1)m=mk('rect',{x:px-3.6,y:py-3.6,width:7.2,height:7.2,fill:barColors[i]},g);
      else m=mk('path',{d:'M'+px+' '+(py-4.5)+'l4.2 8h-8.4z',fill:barColors[i]},g);
      
      
    });
    const tick=mk('line',{x1:x(i),x2:x(i),y1:1124,y2:1136,stroke:'#000','stroke-width':2.4},g);
    
    
    const lab=mk('text',{transform:'translate('+(x(i)+6)+',1153) rotate(-45)','text-anchor':'end','font-size':17.5,'font-weight':'bold','font-style':'italic'},g,grp);
    
    
  });
  const axis=mk('path',{d:'M'+layout.axis+' 879V1124H'+layout.end,fill:'none',stroke:'#000','stroke-width':2.6},g);
  
  
  ticks.forEach((v,i)=>{
    const tick=mk('line',{x1:layout.axis-13,x2:layout.axis,y1:y(v),y2:y(v),stroke:'#000','stroke-width':2.4},g);
    
    
    const lab=mk('text',{x:layout.axis-15,y:y(v)+6.5,'text-anchor':'end','font-size':17.5,'font-weight':'bold'},g,tickLabels[i]);
    
    
  });
  marks.forEach(m=>{
    const br=mk('line',{x1:x(m[0]),x2:x(m[1]),y1:y(m[2]),y2:y(m[2]),stroke:'#000','stroke-width':3.2},g);
    
    
    const lab=mk('text',{x:(x(m[0])+x(m[1]))/2,y:y(m[2])-(m[3]==='*'?6:11),'text-anchor':'middle','font-size':m[3]==='ns'?20:22,'font-weight':m[3]==='*'?'bold':'normal'},g,m[3]);
    
    
  });
}
drawBarChart('Cox6a2',{axis:1035,end:1198,c0:1066,step:48.7,titleW:83},cox6a2Means,cox6a2Upper,cox6a2Lower,cox6a2Points,cox6a2Jitter,cox6a2Ticks,cox6a2TickLabels,cox6a2Marks);
drawBarChart('Sdhd',{axis:1297,end:1460,c0:1328.7,step:48.7,titleW:58},sdhdMeans,sdhdUpper,sdhdLower,sdhdPoints,sdhdJitter,sdhdTicks,sdhdTickLabels,sdhdMarks);
drawBarChart('Ndufs1',{axis:1559.7,end:1723,c0:1591,step:49,titleW:79},ndufs1Means,ndufs1Upper,ndufs1Lower,ndufs1Points,ndufs1Jitter,ndufs1Ticks,ndufs1TickLabels,ndufs1Marks);
</script>
</body>
</html>
